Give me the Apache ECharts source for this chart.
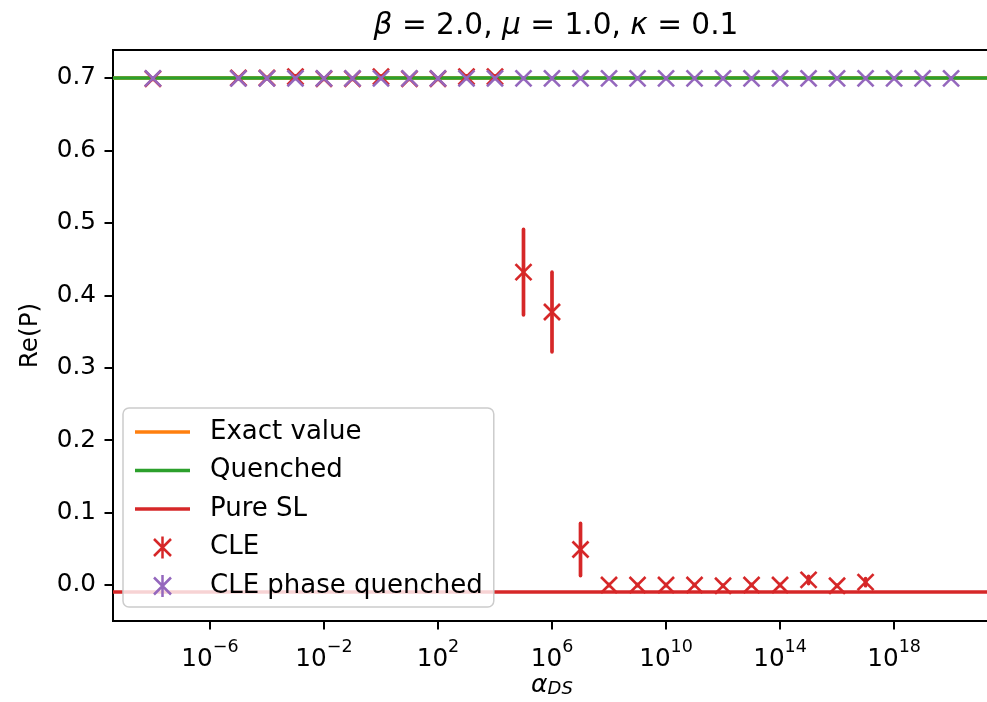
<!DOCTYPE html>
<html><head><meta charset="utf-8">
<script src="https://cdn.jsdelivr.net/npm/echarts@6/dist/echarts.min.js"></script>
<style>html,body{margin:0;padding:0;background:#fff}#c{width:987px;height:702px}</style>
</head><body><div id="c"></div>
<script>
const FONT = 'DejaVu Sans';

// tick labels
const xTickExponents = [-6, -2, 2, 6, 10, 14, 18];
const yTicks = [0.0, 0.1, 0.2, 0.3, 0.4, 0.5, 0.6, 0.7];

// horizontal reference values
const exactValue = 0.698;
const quenchedValue = 0.700;
const pureSLValue = -0.0145;

// CLE
const cleAlpha = [1e-8, 1e-5, 1e-4, 1e-3, 1e-2, 1e-1, 1e0, 1e1, 1e2, 1e3, 1e4,
                  1e5, 1e6, 1e7, 1e8, 1e9, 1e10, 1e11, 1e12, 1e13, 1e14, 1e15, 1e16, 1e17];
const cleRe    = [0.699, 0.700, 0.700, 0.702, 0.699, 0.699, 0.702, 0.699, 0.699, 0.702, 0.702,
                  0.432, 0.377, 0.049, 0.000, 0.000, 0.000, 0.000, -0.001, 0.000, 0.000, 0.007, -0.001, 0.004];
const cleErr   = [0.001, 0.001, 0.001, 0.001, 0.001, 0.001, 0.001, 0.001, 0.001, 0.001, 0.001,
                  0.059, 0.055, 0.036, 0.001, 0.001, 0.001, 0.001, 0.001, 0.001, 0.001, 0.005, 0.001, 0.005];

// CLE phase quenched
const pqAlpha = [1e-8, 1e-5, 1e-4, 1e-3, 1e-2, 1e-1, 1e0, 1e1, 1e2, 1e3, 1e4, 1e5, 1e6, 1e7,
                 1e8, 1e9, 1e10, 1e11, 1e12, 1e13, 1e14, 1e15, 1e16, 1e17, 1e18, 1e19, 1e20];
const pqRe    = [0.6995, 0.6995, 0.6995, 0.6995, 0.6995, 0.6995, 0.6995, 0.6995, 0.6995, 0.6995, 0.6995, 0.6995, 0.6995, 0.6995,
                 0.6995, 0.6995, 0.6995, 0.6995, 0.6995, 0.6995, 0.6995, 0.6995, 0.6995, 0.6995, 0.6995, 0.6995, 0.6995];
const pqErr   = [0.0005, 0.0005, 0.0005, 0.0005, 0.0005, 0.0005, 0.0005, 0.0005, 0.0005, 0.0005, 0.0005, 0.0005, 0.0005, 0.0005,
                 0.0005, 0.0005, 0.0005, 0.0005, 0.0005, 0.0005, 0.0005, 0.0005, 0.0005, 0.0005, 0.0005, 0.0005, 0.0005];

const C_ORANGE = '#ff7f0e', C_GREEN = '#2ca02c', C_RED = '#d62728', C_PURPLE = '#9467bd';

const xTickValues = xTickExponents.map(e => Math.pow(10, e));
const X_MIN = Math.pow(10, -9.4), X_MAX = Math.pow(10, 21.4);

const LINE_ICON = 'path://M0,0H55V3.7H0Z';
const ERR_ICON = 'path://M7.25,0H9.75V22H7.25Z' +
  'M0.884,1.616L17.884,18.616L16.116,20.384L-0.884,3.384Z' +
  'M-0.884,18.616L16.116,1.616L17.884,3.384L0.884,20.384Z';

function errX(color) {
  return function (params, api) {
    const x = api.value(0), y = api.value(1), e = api.value(2);
    const c = api.coord([x, y]);
    const t = api.coord([x, y + e]);
    const b = api.coord([x, y - e]);
    const h = 8;
    const st = { stroke: color, lineWidth: 2.6, fill: null, lineCap: 'butt' };
    return {
      type: 'group',
      children: [
        { type: 'line', shape: { x1: c[0], y1: t[1], x2: c[0], y2: b[1] }, style: { stroke: color, lineWidth: 3.7, lineCap: 'round' } },
        { type: 'line', shape: { x1: c[0] - h, y1: c[1] - h, x2: c[0] + h, y2: c[1] + h }, style: st },
        { type: 'line', shape: { x1: c[0] - h, y1: c[1] + h, x2: c[0] + h, y2: c[1] - h }, style: st }
      ]
    };
  };
}

function hline(name, value, color) {
  return {
    name: name, type: 'line', data: [], color: color,
    itemStyle: { color: color }, lineStyle: { color: color, width: 3.7 },
    z: 2,
    markLine: {
      silent: true, symbol: ['none', 'none'], label: { show: false },
      lineStyle: { color: color, width: 3.7, type: 'solid' },
      emphasis: { disabled: true },
      animation: false,
      data: [{ yAxis: value }]
    }
  };
}

const chart = echarts.init(document.getElementById('c'), null, { renderer: 'canvas' });
chart.setOption({
  animation: false,
  backgroundColor: '#ffffff',
  title: {
    text: '{i|β} = 2.0, {i|μ} = 1.0, {i|κ} = 0.1',
    left: 551, top: 6, textAlign: 'center',
    textStyle: {
      fontFamily: FONT, fontSize: 29.6, fontWeight: 'normal', color: '#000',
      rich: { i: { fontFamily: FONT, fontSize: 29.6, fontStyle: 'italic', color: '#000' } }
    }
  },
  grid: { left: 113, top: 50, right: -4, bottom: 81, show: true, borderColor: '#000', borderWidth: 2,
          backgroundColor: 'transparent', outerBoundsMode: 'none', containLabel: false },
  xAxis: {
    type: 'log', logBase: 10, min: X_MIN, max: X_MAX,
    name: '{a|α}{s|DS}', nameLocation: 'middle', nameGap: 52, nameMoveOverlap: false,
    nameTextStyle: {
      rich: {
        a: { fontFamily: FONT, fontSize: 25, fontStyle: 'italic', color: '#000', verticalAlign: 'top', lineHeight: 30 },
        s: { fontFamily: FONT, fontSize: 18, fontStyle: 'italic', color: '#000', verticalAlign: 'top', lineHeight: 30, padding: [7, 0, 0, 0] }
      }
    },
    axisLine: { show: true, onZero: false, lineStyle: { color: '#000', width: 2 } },
    axisTick: { show: true, customValues: xTickValues, length: 8.5, lineStyle: { color: '#000', width: 2 } },
    minorTick: { show: false },
    splitLine: { show: false },
    axisLabel: {
      customValues: xTickValues, margin: 17,
      formatter: function (v) {
        const e = Math.round(Math.log10(v));
        return '{b|10}{s|' + (e < 0 ? '\u2212' : '') + Math.abs(e) + '}';
      },
      rich: {
        b: { fontFamily: FONT, fontSize: 24.7, color: '#000', verticalAlign: 'bottom', lineHeight: 34 },
        s: { fontFamily: FONT, fontSize: 17.5, color: '#000', verticalAlign: 'top', lineHeight: 17 }
      }
    }
  },
  yAxis: {
    type: 'value', min: -0.0497, max: 0.7387,
    name: 'Re(P)', nameLocation: 'middle', nameGap: 70, nameRotate: 90, nameMoveOverlap: false,
    nameTextStyle: { fontFamily: FONT, fontSize: 24.7, color: '#000' },
    axisLine: { show: true, onZero: false, lineStyle: { color: '#000', width: 2 } },
    axisTick: { show: true, customValues: yTicks, length: 8.5, lineStyle: { color: '#000', width: 2 } },
    splitLine: { show: false },
    axisLabel: {
      customValues: yTicks, margin: 17,
      fontFamily: FONT, fontSize: 24.7, color: '#000',
      formatter: v => v.toFixed(1)
    }
  },
  legend: {
    orient: 'vertical', left: 123, top: 408, z: 10, selectedMode: false,
    backgroundColor: 'rgba(255,255,255,0.8)', borderColor: '#cccccc', borderWidth: 1.5, borderRadius: 6,
    padding: [11, 11, 8, 12],
    itemWidth: 55, itemHeight: 22, itemGap: 12.5,
    textStyle: { fontFamily: FONT, fontSize: 26, color: '#000', lineHeight: 22, padding: [0, 0, 0, 15] },
    data: [
      { name: 'Exact value', icon: LINE_ICON, itemStyle: { color: C_ORANGE } },
      { name: 'Quenched', icon: LINE_ICON, itemStyle: { color: C_GREEN } },
      { name: 'Pure SL', icon: LINE_ICON, itemStyle: { color: C_RED } },
      { name: 'CLE', icon: ERR_ICON, itemStyle: { color: C_RED } },
      { name: 'CLE phase quenched', icon: ERR_ICON, itemStyle: { color: C_PURPLE } }
    ]
  },
  series: [
    hline('Exact value', exactValue, C_ORANGE),
    hline('Quenched', quenchedValue, C_GREEN),
    hline('Pure SL', pureSLValue, C_RED),
    {
      name: 'CLE', type: 'custom', z: 6, color: C_RED, itemStyle: { color: C_RED },
      renderItem: errX(C_RED), encode: { x: 0, y: 1 },
      data: cleAlpha.map((a, i) => [a, cleRe[i], cleErr[i]])
    },
    {
      name: 'CLE phase quenched', type: 'custom', z: 7, color: C_PURPLE, itemStyle: { color: C_PURPLE },
      renderItem: errX(C_PURPLE), encode: { x: 0, y: 1 },
      data: pqAlpha.map((a, i) => [a, pqRe[i], pqErr[i]])
    }
  ]
});
</script>
</body></html>
